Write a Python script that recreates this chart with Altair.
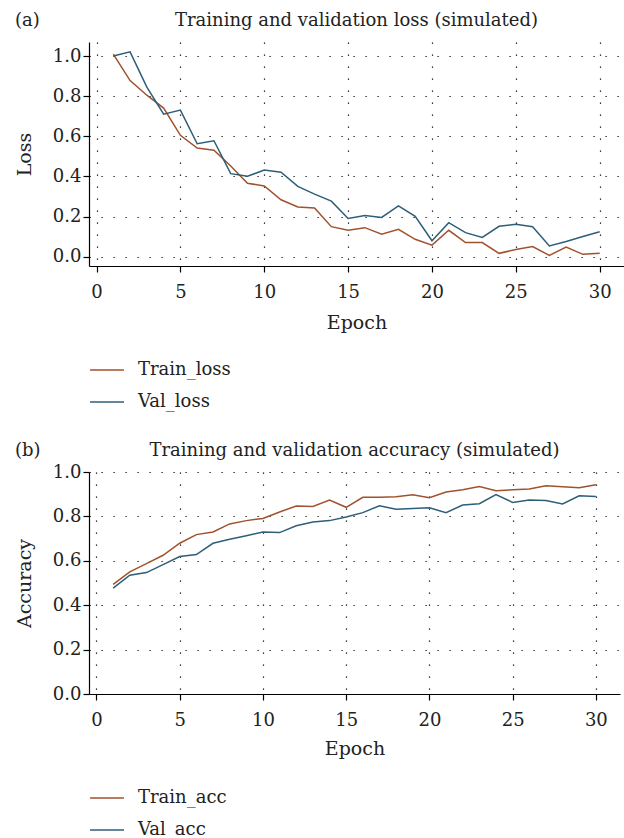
import altair as alt
import pandas as pd

epochs = list(range(1, 31))
train_loss = [1.01, 0.878, 0.805, 0.741, 0.605, 0.542, 0.531, 0.452, 0.366, 0.353,
              0.284, 0.248, 0.243, 0.150, 0.132, 0.145, 0.112, 0.137, 0.087, 0.058,
              0.132, 0.071, 0.071, 0.017, 0.036, 0.051, 0.007, 0.048, 0.012, 0.018]
val_loss = [1.0, 1.021, 0.845, 0.710, 0.731, 0.563, 0.578, 0.414, 0.401, 0.432,
            0.421, 0.351, 0.312, 0.277, 0.191, 0.205, 0.196, 0.254, 0.201, 0.080,
            0.170, 0.120, 0.096, 0.152, 0.162, 0.150, 0.054, 0.076, 0.101, 0.125]
train_acc = [0.494, 0.550, 0.587, 0.625, 0.679, 0.718, 0.730, 0.766, 0.781, 0.791,
             0.820, 0.847, 0.845, 0.874, 0.841, 0.886, 0.886, 0.889, 0.898, 0.884,
             0.910, 0.920, 0.935, 0.916, 0.920, 0.923, 0.938, 0.934, 0.929, 0.943]
val_acc = [0.477, 0.535, 0.547, 0.583, 0.619, 0.628, 0.679, 0.697, 0.713, 0.730,
           0.727, 0.758, 0.775, 0.781, 0.797, 0.817, 0.848, 0.832, 0.836, 0.839,
           0.817, 0.851, 0.857, 0.898, 0.863, 0.874, 0.872, 0.856, 0.893, 0.890]

x_ticks = [0, 5, 10, 15, 20, 25, 30]
y_ticks = [0.0, 0.2, 0.4, 0.6, 0.8, 1.0]

FONT = "DejaVu Serif"
TRAIN = "#a0522d"
VAL = "#2e5e78"
INK = "#222222"


def long_df(names, a, b):
    return pd.DataFrame({
        "epoch": epochs + epochs,
        "value": a + b,
        "series": [names[0]] * len(epochs) + [names[1]] * len(epochs),
    })


def panel(names, a, b, ylab, title, tag, ydomain, width, height, xtitle_pad, legend_offset):
    df = long_df(names, a, b)
    lines = alt.Chart(df).mark_line(strokeWidth=1.5).encode(
        x=alt.X("epoch:Q",
                scale=alt.Scale(domain=[-0.45, 31.45], nice=False, zero=False),
                axis=alt.Axis(values=x_ticks, format="d", title="Epoch",
                              labelPadding=11, titlePadding=xtitle_pad)),
        y=alt.Y("value:Q",
                scale=alt.Scale(domain=ydomain, nice=False, zero=False),
                axis=alt.Axis(values=y_ticks, format=".1f", title=ylab,
                              labelPadding=2, titlePadding=18)),
        color=alt.Color("series:N",
                        scale=alt.Scale(domain=names, range=[TRAIN, VAL]),
                        legend=alt.Legend(title=None, orient="bottom",
                                          direction="vertical", offset=legend_offset,
                                          symbolType="stroke", symbolSize=1150,
                                          symbolStrokeWidth=1.5,
                                          labelFont=FONT, labelFontSize=18,
                                          labelColor=INK, labelOffset=13,
                                          rowPadding=5)),
    )
    labels = pd.DataFrame({"t": [tag, title], "kind": ["tag", "title"]})
    tag_layer = alt.Chart(labels).transform_filter(alt.datum.kind == "tag").mark_text(
        align="left", baseline="middle", font=FONT, fontSize=18, color=INK
    ).encode(x=alt.value(-74), y=alt.value(-21), text="t:N")
    title_layer = alt.Chart(labels).transform_filter(alt.datum.kind == "title").mark_text(
        align="center", baseline="middle", font=FONT, fontSize=18, color=INK
    ).encode(x=alt.value(width / 2), y=alt.value(-21), text="t:N")
    return alt.layer(lines, tag_layer, title_layer).properties(width=width, height=height)


top = panel(["Train_loss", "Val_loss"], train_loss, val_loss, "Loss",
            "Training and validation loss (simulated)", "(a)",
            [-0.046, 1.07], 535, 224, 12, 20)
bottom = panel(["Train_acc", "Val_acc"], train_acc, val_acc, "Accuracy",
               "Training and validation accuracy (simulated)", "(b)",
               [0.0, 1.0], 531, 222, 10, 22)

chart = alt.concat(top, bottom, columns=1, spacing=31).resolve_scale(
    color="independent"
).resolve_legend(color="independent").properties(
    padding={"left": 15, "top": 12, "right": 0, "bottom": 0}
).configure_view(strokeWidth=0).configure_axis(
    domainColor="#000000", domainWidth=1.2,
    tickColor="#000000", tickWidth=1.2, tickSize=6,
    labelFont=FONT, labelFontSize=18, labelColor=INK,
    titleFont=FONT, titleFontSize=19, titleFontWeight="normal", titleColor=INK,
    grid=True, gridColor="#000000", gridDash=[1.2, 10.8], gridWidth=1.2,
    gridOpacity=1,
)

chart.save("out.html", embed_options={"renderer": "svg", "actions": False})
